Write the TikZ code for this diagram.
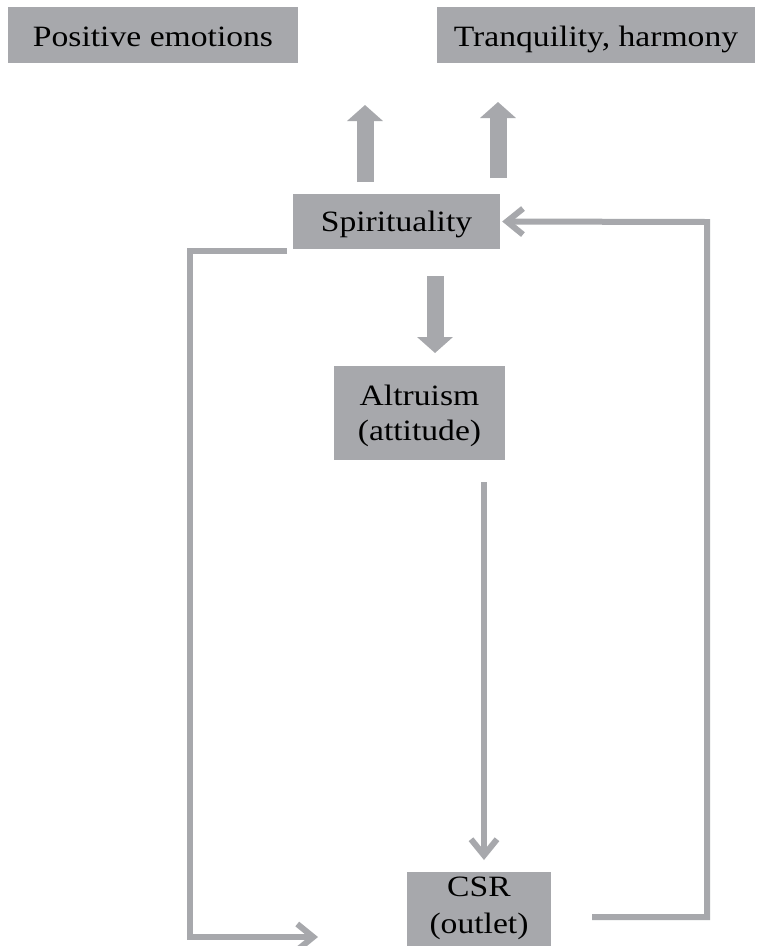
\documentclass[tikz,border=0pt]{standalone}
\usepackage{fontspec}
\setmainfont{Liberation Serif}[FakeStretch=1.14]
\usetikzlibrary{arrows.meta}
\definecolor{boxgray}{RGB}{167,168,172}
\begin{document}
\begin{tikzpicture}[x=1pt,y=-1pt,
  box/.style={fill=boxgray, draw=none, inner sep=0pt, align=center, text=black,
    text height=26pt, text depth=4pt, font=\fontsize{29.5}{36}\selectfont},
  bigarrow/.style={draw=boxgray, line width=17pt, line cap=butt,
    -{Triangle[width=35pt,length=16pt]}},
  thinarrow/.style={draw=boxgray, line width=6pt, line cap=butt, line join=miter,
    -{Straight Barb[length=16pt,width=26pt]}}]
\clip (0,0) rectangle (761,946);
\fill[white] (0,0) rectangle (761,946);
\node[box, minimum width=290pt, minimum height=56pt] (pos) at (153,35) {Positive emotions};
\node[box, minimum width=318pt, minimum height=56pt] (tra) at (596,35) {Tranquility, harmony};
\node[box, minimum width=207pt, minimum height=55pt, text height=24pt] (spi) at (396.5,221.5) {Spirituality};
\node[box, minimum width=171pt, minimum height=94pt, text height=58pt, text depth=4pt, font=\fontsize{29.5}{35}\selectfont] (alt) at (419.5,413) {Altruism\\(attitude)};
\node[box, minimum width=144pt, minimum height=84pt, text height=42pt, text depth=4pt, font=\fontsize{29.5}{37}\selectfont] (csr) at (479,914) {CSR\\(outlet)};
\coordinate (u1s) at (365,182);
\coordinate (u1e) at (365,105);
\coordinate (u2s) at (498,178);
\coordinate (u2e) at (498,102);
\coordinate (ds) at (435,276);
\coordinate (de) at (435,353);
\coordinate (as) at (484,482);
\coordinate (ae) at (484,860);
\coordinate (r0) at (592,917);
\coordinate (r1) at (707,917);
\coordinate (r2) at (707,222);
\coordinate (l0) at (287,251);
\coordinate (l1) at (190,251);
\coordinate (l2) at (190,937);
\coordinate (l3) at (318,937);
\draw[bigarrow] (u1s) -- (u1e);
\draw[bigarrow] (u2s) -- (u2e);
\draw[bigarrow] (ds) -- (de);
\draw[thinarrow] (as) -- (ae);
\draw[thinarrow] (r0) -- (r1) -- (r2) -- ([xshift=2pt]spi.east);
\draw[thinarrow] (l0) -- (l1) -- (l2) -- (l3);
\end{tikzpicture}
\end{document}
